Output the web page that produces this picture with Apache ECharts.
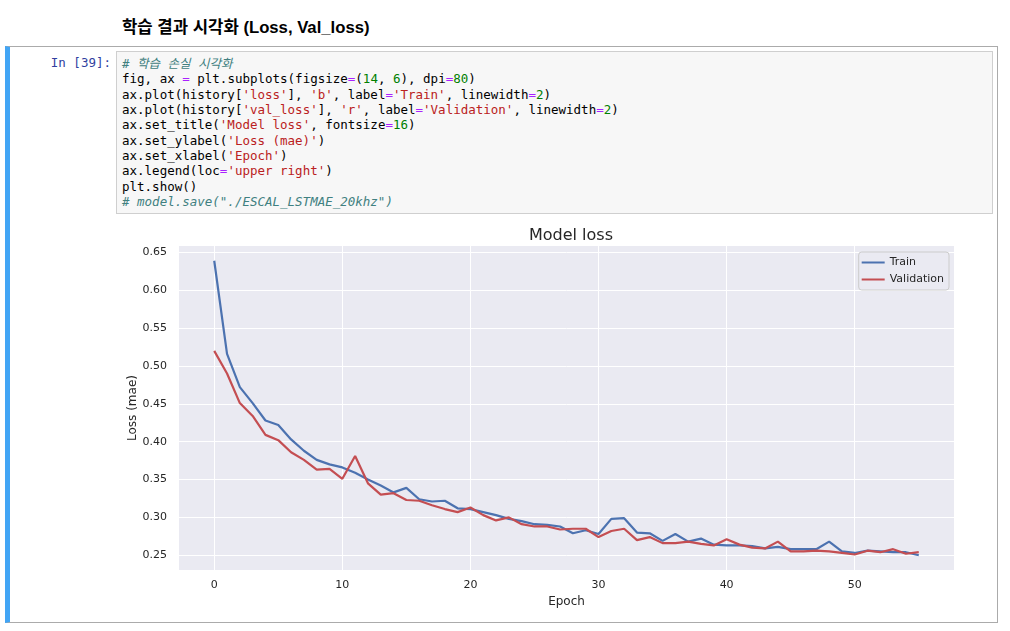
<!DOCTYPE html>
<html>
<head>
<meta charset="utf-8">
<script src="https://cdn.jsdelivr.net/npm/echarts@6/dist/echarts.min.js"></script>
<style>
  body { margin: 0; background: #fff; width: 1010px; height: 631px; overflow: hidden; position: relative; }
  .heading { position: absolute; left: 122px; top: 14px; font: bold 16.7px "Liberation Sans", Arial, "Noto Sans CJK KR", sans-serif; color: #000; }
  .cell { position: absolute; left: 5px; top: 46px; width: 993px; height: 577px; border: 1px solid #ababab; border-left: 5px solid #42a5f5; box-sizing: border-box; }
  .prompt { position: absolute; left: 20px; width: 91px; top: 55px; text-align: right; font: 12.5px/15.33px "DejaVu Sans Mono", monospace; color: #303f9f; }
  .code { position: absolute; left: 116px; top: 51px; width: 877px; height: 163px; background: #f7f7f7; border: 1px solid #cfcfcf; box-sizing: border-box; padding: 4px 0 0 5px; font: 12.5px/15.33px "DejaVu Sans Mono", "Noto Sans CJK KR", monospace; color: #000; white-space: pre; }
  .c { color: #408080; font-style: italic; }
  .s { color: #ba2121; }
  .n { color: #008000; }
  .o { color: #aa22ff; }
  #chart { position: absolute; left: 100px; top: 215px; width: 880px; height: 405px; }
</style>
</head>
<body>
<div class="heading">학습 결과 시각화 (Loss, Val_loss)</div>
<div class="cell"></div>
<div class="prompt">In [39]:</div>
<div class="code"><span class="c"># 학습 손실 시각화</span>
fig, ax <span class="o">=</span> plt.subplots(figsize<span class="o">=</span>(<span class="n">14</span>, <span class="n">6</span>), dpi<span class="o">=</span><span class="n">80</span>)
ax.plot(history[<span class="s">'loss'</span>], <span class="s">'b'</span>, label<span class="o">=</span><span class="s">'Train'</span>, linewidth<span class="o">=</span><span class="n">2</span>)
ax.plot(history[<span class="s">'val_loss'</span>], <span class="s">'r'</span>, label<span class="o">=</span><span class="s">'Validation'</span>, linewidth<span class="o">=</span><span class="n">2</span>)
ax.set_title(<span class="s">'Model loss'</span>, fontsize<span class="o">=</span><span class="n">16</span>)
ax.set_ylabel(<span class="s">'Loss (mae)'</span>)
ax.set_xlabel(<span class="s">'Epoch'</span>)
ax.legend(loc<span class="o">=</span><span class="s">'upper right'</span>)
plt.show()
<span class="c"># model.save("./ESCAL_LSTMAE_20khz")</span></div>
<div id="chart"></div>
<script>
// values, one per epoch (0..55)
var trainLoss = [0.639, 0.516, 0.472, 0.451, 0.428, 0.422, 0.403, 0.388, 0.376, 0.370,
  0.366, 0.359, 0.350, 0.342, 0.333, 0.339, 0.324, 0.321, 0.322, 0.312,
  0.311, 0.307, 0.303, 0.298, 0.295, 0.291, 0.290, 0.288, 0.279, 0.283,
  0.278, 0.298, 0.299, 0.280, 0.279, 0.269, 0.278, 0.268, 0.272, 0.264,
  0.263, 0.263, 0.262, 0.259, 0.261, 0.258, 0.258, 0.258, 0.268, 0.255,
  0.253, 0.256, 0.255, 0.254, 0.254, 0.250];
var valLoss = [0.520, 0.490, 0.451, 0.434, 0.409, 0.402, 0.386, 0.376, 0.363, 0.364,
  0.351, 0.381, 0.345, 0.330, 0.332, 0.323, 0.322, 0.316, 0.311, 0.307,
  0.313, 0.303, 0.296, 0.300, 0.291, 0.288, 0.288, 0.284, 0.285, 0.285,
  0.274, 0.282, 0.285, 0.270, 0.274, 0.266, 0.266, 0.268, 0.265, 0.263,
  0.271, 0.264, 0.260, 0.259, 0.268, 0.255, 0.255, 0.256, 0.255, 0.253,
  0.251, 0.256, 0.254, 0.258, 0.252, 0.254];
var xTicks = [0, 10, 20, 30, 40, 50];
var yTicks = [0.25, 0.30, 0.35, 0.40, 0.45, 0.50, 0.55, 0.60, 0.65];

function toPairs(arr) {
  return arr.map(function (v, i) { return [i, v]; });
}

var font = '"DejaVu Sans", sans-serif';
var myChart = echarts.init(document.getElementById('chart'));
var option = {
  animation: false,
  textStyle: { fontFamily: font },
  title: {
    text: 'Model loss',
    left: 466,
    textAlign: 'center',
    top: 8,
    textStyle: { fontFamily: font, fontSize: 16, fontWeight: 'normal', color: '#262626' }
  },
  grid: { left: 79, top: 31, width: 775, height: 324, backgroundColor: '#eaeaf2', show: true, borderWidth: 0 },
  legend: {
    orient: 'vertical',
    right: 31,
    top: 37,
    icon: 'rect',
    itemWidth: 23,
    itemHeight: 2,
    itemGap: 6,
    padding: [5, 5, 5, 3],
    backgroundColor: '#eaeaf2',
    borderColor: '#cccccc',
    borderWidth: 1,
    borderRadius: 3,
    textStyle: { fontFamily: font, fontSize: 11, color: '#262626' },
    data: ['Train', 'Validation']
  },
  xAxis: {
    type: 'value',
    min: -2.75,
    max: 57.75,
    name: 'Epoch',
    nameLocation: 'middle',
    nameGap: 26,
    nameTextStyle: { fontFamily: font, fontSize: 12, color: '#262626' },
    axisLine: { show: false },
    axisTick: { show: false, customValues: xTicks },
    axisLabel: { customValues: xTicks, margin: 10, fontSize: 11, color: '#262626', fontFamily: font },
    splitLine: { show: true, lineStyle: { color: '#ffffff', width: 1 } }
  },
  yAxis: {
    type: 'value',
    min: 0.2305,
    max: 0.6585,
    name: 'Loss (mae)',
    nameLocation: 'middle',
    nameGap: 40,
    nameRotate: 90,
    nameMoveOverlap: false,
    nameTextStyle: { fontFamily: font, fontSize: 12, color: '#262626' },
    axisLine: { show: false },
    axisTick: { show: false, customValues: yTicks },
    axisLabel: {
      customValues: yTicks, margin: 12, fontSize: 11, color: '#262626', fontFamily: font,
      formatter: function (v) { return v.toFixed(2); }
    },
    splitLine: { show: true, lineStyle: { color: '#ffffff', width: 1 } }
  },
  series: [
    {
      name: 'Train',
      type: 'line',
      symbol: 'none',
      data: toPairs(trainLoss),
      lineStyle: { color: '#4c72b0', width: 2.2 },
      itemStyle: { color: '#4c72b0' }
    },
    {
      name: 'Validation',
      type: 'line',
      symbol: 'none',
      data: toPairs(valLoss),
      lineStyle: { color: '#c44e52', width: 2.2 },
      itemStyle: { color: '#c44e52' }
    }
  ]
};
myChart.setOption(option);
</script>
</body>
</html>
